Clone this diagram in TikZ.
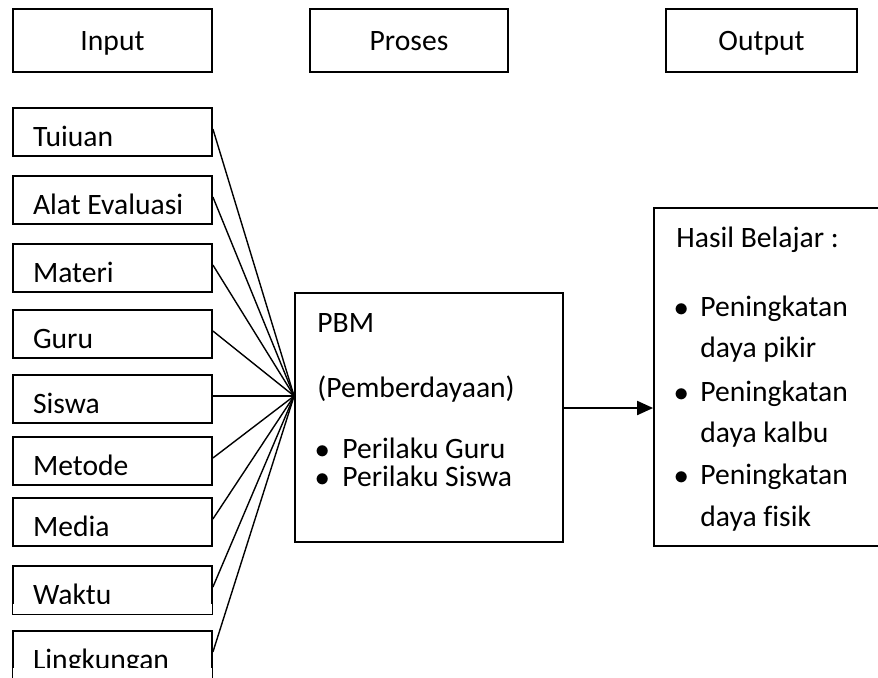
\documentclass[tikz,border=0pt]{standalone}
\usepackage{fontspec}
\setmainfont{Carlito}[Ligatures=NoCommon]
\usetikzlibrary{calc,arrows.meta}
\tikzset{%
  >={Triangle[length=8pt,width=7pt]}, % filled arrow head
  every node/.style={font=\fontsize{14.8}{17}\selectfont},
  headbox/.style={draw,line width=.9pt,inner sep=0pt,minimum height=31.5pt,
    text height=9.5pt,text depth=0pt},
  inbox/.style={draw,line width=.9pt,inner xsep=10pt,inner ysep=0pt,
    text width=79.5pt,align=flush left,text height=19.25pt,text depth=4.75pt},
  bigbox/.style={draw,line width=.9pt,inner sep=0pt},
  txt/.style={inner sep=0pt,anchor=base west},
  dot/.style={inner sep=0pt,anchor=base},
  link/.style={line width=.7pt},
  cutoff/.style={fill=white,draw=none}
}
\begin{document}
\begin{tikzpicture}[x=0.5pt,y=-0.5pt]

%definitions
\def\Lx{112.5} % centre of the input column
\def\Bx{682} % bullets of the output box
\def\Tx{700} % text of the output box
\useasboundingbox (0,0) rectangle (878,677);

%headers
\node[headbox,minimum width=99.5pt] (hinput) at (\Lx,40.5) {Input};
\node[headbox,minimum width=99pt] (hproses) at (409,40.5) {Proses};
\node[headbox,minimum width=95.5pt] (houtput) at (761.5,40.5) {Output};

%input boxes
\node[inbox] (tujuan) at (\Lx,132) {Tuiuan};
\node[inbox] (alat) at (\Lx,200) {Alat Evaluasi};
\node[inbox] (materi) at (\Lx,268) {Materi};
\node[inbox] (guru) at (\Lx,334) {Guru};
\node[inbox] (siswa) at (\Lx,399) {Siswa};
\node[inbox] (metode) at (\Lx,461) {Metode};
\node[inbox] (media) at (\Lx,522) {Media};
\node[inbox] (waktu) at (\Lx,590) {Waktu};
\node[inbox] (lingkungan) at (\Lx,655) {Lingkungan};
% text cut at the bottom of the last two boxes
\path[cutoff] ($(waktu.south west)+(.45pt,.45pt)$)
  rectangle ($(waktu.south east)+(-.45pt,5.7pt)$);
\path[cutoff] ($(lingkungan.south west)+(.45pt,.45pt)$)
  rectangle ($(lingkungan.south east)+(-.45pt,6pt)$);

%process box
\node[bigbox,minimum width=134pt,minimum height=124.5pt] (pbm) at (429,417.5) {};
\node[txt] (pbmt) at (317,332) {PBM};
\node[txt] (pemb) at (317,397) {(Pemberdayaan)};
\node[dot] (pd1) at (323,458) {$\bullet$};
\node[txt] (pgu) at (342,458) {Perilaku Guru};
\node[dot] (pd2) at (323,486) {$\bullet$};
\node[txt] (psi) at (342,486) {Perilaku Siswa};

%output box
\node[bigbox,minimum width=118pt,minimum height=169pt] (hasil) at (772,377) {};
\node[txt] (hasilt) at (676,247) {Hasil Belajar :};
\node[dot] (od1) at (\Bx,316) {$\bullet$};
\node[txt] (pen1) at (\Tx,316) {Peningkatan};
\node[txt] (pikir) at (\Tx,357) {daya pikir};
\node[dot] (od2) at (\Bx,401) {$\bullet$};
\node[txt] (pen2) at (\Tx,401) {Peningkatan};
\node[txt] (kalbu) at (\Tx,442) {daya kalbu};
\node[dot] (od3) at (\Bx,484) {$\bullet$};
\node[txt] (pen3) at (\Tx,484) {Peningkatan};
\node[txt] (fisik) at (\Tx,526) {daya fisik};

%connectors
\coordinate (hub) at ($(pbm.west |- siswa.east)+(0,1.5pt)$);
\foreach \n in {tujuan,alat,materi,guru,siswa,metode,media,waktu,lingkungan}
  \draw[link] ([yshift=1.5pt]\n.east) -- (hub);
\coordinate (out) at ($(pbm.east)+(0,4.75pt)$);
\draw[->,line width=1pt] (out) -- (out -| hasil.west);

\end{tikzpicture}
\end{document}
